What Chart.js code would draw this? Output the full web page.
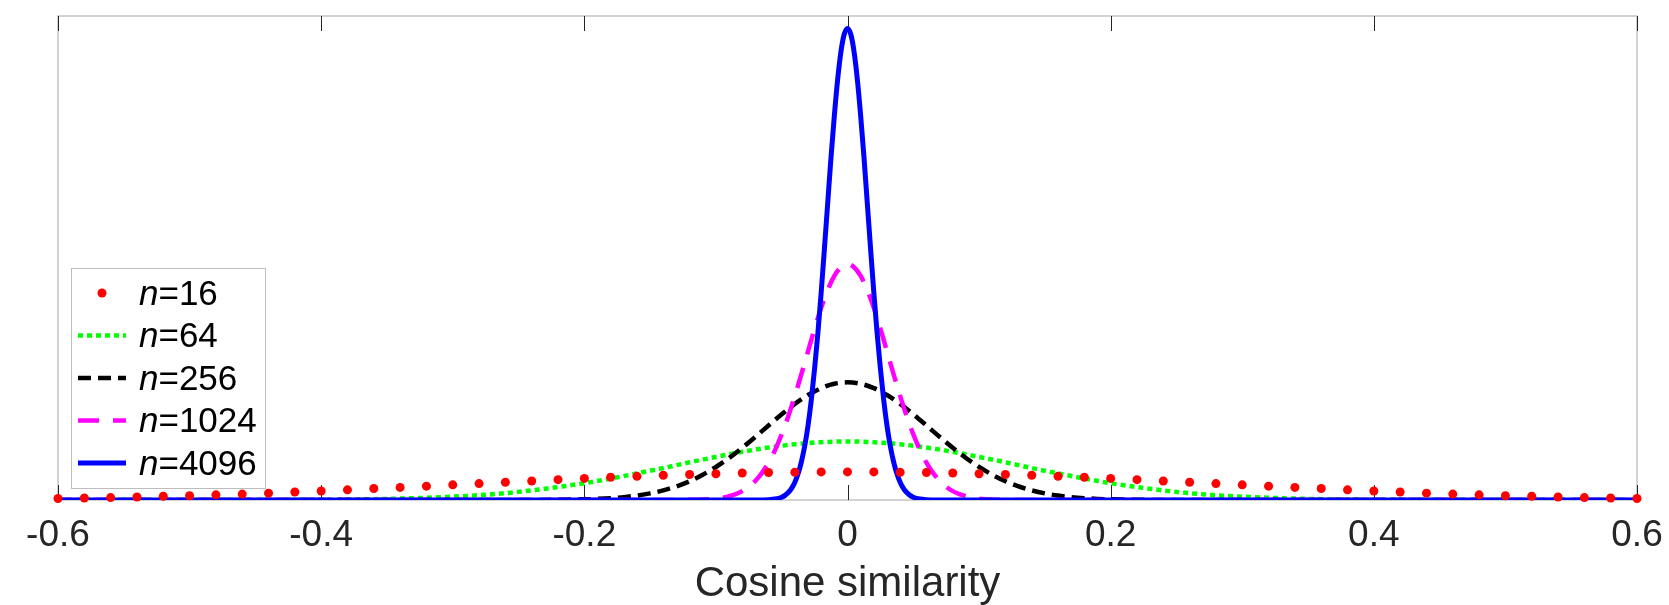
<!DOCTYPE html>
<html>
<head>
<meta charset="utf-8">
<script src="https://cdn.jsdelivr.net/npm/chart.js@4/dist/chart.umd.min.js"></script>
<style>
  body { margin: 0; background: #fff; }
  #wrap { width: 1669px; height: 605px; position: relative; }
</style>
</head>
<body>
<div id="wrap"><canvas id="chartCanvas"></canvas></div>
<script>
// Series names (vector dimension)
var nValues = [16, 64, 256, 1024, 4096];

// Axis ticks
var xTickValues = [-0.6, -0.4, -0.2, 0, 0.2, 0.4, 0.6];
var xTickLabels = ["-0.6", "-0.4", "-0.2", "0", "0.2", "0.4", "0.6"];

// Shared x grid for n=16 and n=64 (step 0.02)
var xCoarse = [-0.6, -0.58, -0.56, -0.54, -0.52, -0.5, -0.48, -0.46, -0.44, -0.42,
  -0.4, -0.38, -0.36, -0.34, -0.32, -0.3, -0.28, -0.26, -0.24, -0.22,
  -0.2, -0.18, -0.16, -0.14, -0.12, -0.1, -0.08, -0.06, -0.04, -0.02,
  0,
  0.02, 0.04, 0.06, 0.08, 0.1, 0.12, 0.14, 0.16, 0.18, 0.2,
  0.22, 0.24, 0.26, 0.28, 0.3, 0.32, 0.34, 0.36, 0.38, 0.4,
  0.42, 0.44, 0.46, 0.48, 0.5, 0.52, 0.54, 0.56, 0.58, 0.6];

var y16 = [0.08, 0.11, 0.13, 0.16, 0.20, 0.23, 0.28, 0.32, 0.37, 0.43,
  0.49, 0.55, 0.62, 0.68, 0.75, 0.82, 0.89, 0.96, 1.03, 1.10,
  1.17, 1.23, 1.28, 1.34, 1.38, 1.42, 1.46, 1.49, 1.50, 1.52,
  1.52,
  1.52, 1.50, 1.49, 1.46, 1.42, 1.38, 1.34, 1.28, 1.23, 1.17,
  1.10, 1.03, 0.96, 0.89, 0.82, 0.75, 0.68, 0.62, 0.55, 0.49,
  0.43, 0.37, 0.32, 0.28, 0.23, 0.20, 0.16, 0.13, 0.11, 0.08];

var y64 = [0, 0, 0, 0, 0, 0, 0.001, 0.002, 0.004, 0.008,
  0.016, 0.027, 0.046, 0.075, 0.12, 0.18, 0.26, 0.37, 0.52, 0.70,
  0.91, 1.16, 1.44, 1.73, 2.04, 2.33, 2.61, 2.84, 3.02, 3.13,
  3.17,
  3.13, 3.02, 2.84, 2.61, 2.33, 2.04, 1.73, 1.44, 1.16, 0.91,
  0.70, 0.52, 0.37, 0.26, 0.18, 0.12, 0.075, 0.046, 0.027, 0.016,
  0.008, 0.004, 0.002, 0.001, 0, 0, 0, 0, 0, 0];

var x256 = [-0.6, -0.3, -0.26, -0.24, -0.22, -0.2, -0.19, -0.18, -0.17, -0.16,
  -0.15, -0.14, -0.13, -0.12, -0.11, -0.1, -0.09, -0.08, -0.07, -0.06,
  -0.05, -0.04, -0.03, -0.02, -0.01, 0, 0.01, 0.02, 0.03, 0.04,
  0.05, 0.06, 0.07, 0.08, 0.09, 0.1, 0.11, 0.12, 0.13, 0.14,
  0.15, 0.16, 0.17, 0.18, 0.19, 0.2, 0.22, 0.24, 0.26, 0.3, 0.6];
var y256 = [0, 0, 0.001, 0.003, 0.012, 0.036, 0.061, 0.099, 0.156, 0.24,
  0.358, 0.521, 0.737, 1.016, 1.366, 1.788, 2.275, 2.826, 3.421, 4.036,
  4.64, 5.201, 5.684, 6.056, 6.29, 6.37, 6.29, 6.056, 5.684, 5.201,
  4.64, 4.036, 3.421, 2.826, 2.275, 1.788, 1.366, 1.016, 0.737, 0.521,
  0.358, 0.24, 0.156, 0.099, 0.061, 0.036, 0.012, 0.003, 0.001, 0, 0];

var x1024 = [-0.6, -0.15, -0.13, -0.12, -0.11, -0.1, -0.095, -0.09, -0.085, -0.08,
  -0.075, -0.07, -0.065, -0.06, -0.055, -0.05, -0.045, -0.04, -0.035, -0.03,
  -0.025, -0.02, -0.015, -0.01, -0.005, 0, 0.005, 0.01, 0.015, 0.02,
  0.025, 0.03, 0.035, 0.04, 0.045, 0.05, 0.055, 0.06, 0.065, 0.07,
  0.075, 0.08, 0.085, 0.09, 0.095, 0.1, 0.11, 0.12, 0.13, 0.15, 0.6];
var y1024 = [0, 0, 0.002, 0.008, 0.026, 0.075, 0.125, 0.201, 0.315, 0.48,
  0.715, 1.038, 1.469, 2.023, 2.716, 3.56, 4.53, 5.64, 6.82, 8.05,
  9.27, 10.40, 11.38, 12.13, 12.60, 12.76, 12.60, 12.13, 11.38, 10.40,
  9.27, 8.05, 6.82, 5.64, 4.53, 3.56, 2.716, 2.023, 1.469, 1.038,
  0.715, 0.48, 0.315, 0.201, 0.125, 0.075, 0.026, 0.008, 0.002, 0, 0];

var x4096 = [-0.6, -0.08, -0.07, -0.06, -0.055, -0.05, -0.0475, -0.045, -0.0425, -0.04,
  -0.0375, -0.035, -0.0325, -0.03, -0.0275, -0.025, -0.0225, -0.02, -0.0175, -0.015,
  -0.0125, -0.01, -0.0075, -0.005, -0.0025, 0, 0.0025, 0.005, 0.0075, 0.01,
  0.0125, 0.015, 0.0175, 0.02, 0.0225, 0.025, 0.0275, 0.03, 0.0325, 0.035,
  0.0375, 0.04, 0.0425, 0.045, 0.0475, 0.05, 0.055, 0.06, 0.07, 0.08, 0.6];
var y4096 = [0, 0, 0.001, 0.016, 0.052, 0.152, 0.251, 0.404, 0.631, 0.963,
  1.43, 2.08, 2.93, 4.03, 5.43, 7.12, 9.04, 11.24, 13.64, 16.11,
  18.58, 20.80, 22.75, 24.26, 25.21, 25.53, 25.21, 24.26, 22.75, 20.80,
  18.58, 16.11, 13.64, 11.24, 9.04, 7.12, 5.43, 4.03, 2.93, 2.08,
  1.43, 0.963, 0.631, 0.404, 0.251, 0.152, 0.052, 0.016, 0.001, 0, 0];

var FONT = "'Liberation Sans', Arial, Helvetica, sans-serif";

function pairs(xs, ys) {
  var out = [];
  for (var i = 0; i < xs.length; i++) out.push({ x: xs[i], y: ys[i] });
  return out;
}

// frame and inward ticks, like the original figure
var framePlugin = {
  id: "frame",
  beforeDatasetsDraw: function (chart) {
    var a = chart.chartArea, ctx = chart.ctx, xs = chart.scales.x;
    ctx.save();
    ctx.strokeStyle = "#c4c4c4";
    ctx.lineWidth = 1.5;
    ctx.strokeRect(a.left, a.top, a.right - a.left, a.bottom - a.top);
    ctx.strokeStyle = "#262626";
    ctx.lineWidth = 1;
    for (var i = 0; i < xTickValues.length; i++) {
      var px = Math.round(xs.getPixelForValue(xTickValues[i])) + 0.5;
      ctx.beginPath();
      ctx.moveTo(px, a.top);
      ctx.lineTo(px, a.top + 15);
      ctx.moveTo(px, a.bottom);
      ctx.lineTo(px, a.bottom - 15);
      ctx.stroke();
    }
    ctx.restore();
  }
};

// legend box with italic n
var legendPlugin = {
  id: "boxLegend",
  afterDraw: function (chart) {
    var ctx = chart.ctx;
    var bx = 71, by = 268, bw = 194, bh = 220;
    ctx.save();
    ctx.fillStyle = "#fff";
    ctx.fillRect(bx, by, bw, bh);
    ctx.strokeStyle = "#bdbdbd";
    ctx.lineWidth = 1;
    ctx.strokeRect(bx + 0.5, by + 0.5, bw, bh);
    var ds = chart.data.datasets;
    for (var i = 0; i < ds.length; i++) {
      var cy = by + 25 + i * 42.5;
      var d = ds[i];
      if (d.showLine === false) {
        ctx.fillStyle = d.pointBackgroundColor;
        ctx.beginPath();
        ctx.arc(102, cy, 4.5, 0, Math.PI * 2);
        ctx.fill();
      } else {
        ctx.strokeStyle = d.borderColor;
        ctx.lineWidth = d.borderWidth;
        ctx.setLineDash(d.borderDash || []);
        ctx.beginPath();
        ctx.moveTo(78, cy);
        ctx.lineTo(126, cy);
        ctx.stroke();
        ctx.setLineDash([]);
      }
      ctx.fillStyle = "#000";
      ctx.textBaseline = "middle";
      ctx.font = "italic 35px " + FONT;
      ctx.fillText("n", 139, cy + 2);
      var w = ctx.measureText("n").width;
      ctx.font = "35px " + FONT;
      ctx.fillText("=" + nValues[i], 139 + w, cy + 2);
    }
    ctx.restore();
  }
};

var ctx = document.getElementById("chartCanvas").getContext("2d");
var chart = new Chart(ctx, {
  type: "scatter",
  data: {
    datasets: [
      {
        label: "n=" + nValues[0],
        data: pairs(xCoarse, y16),
        showLine: false,
        pointRadius: 4.5,
        pointBackgroundColor: "#ff0000",
        pointBorderWidth: 0,
        clip: false,
        order: 0
      },
      {
        label: "n=" + nValues[1],
        data: pairs(xCoarse, y64),
        showLine: true,
        borderColor: "#00ff00",
        borderWidth: 4.5,
        borderDash: [5, 4],
        pointRadius: 0,
        cubicInterpolationMode: "monotone",
        order: 4
      },
      {
        label: "n=" + nValues[2],
        data: pairs(x256, y256),
        showLine: true,
        borderColor: "#000000",
        borderWidth: 4.5,
        borderDash: [13, 7],
        pointRadius: 0,
        cubicInterpolationMode: "monotone",
        order: 3
      },
      {
        label: "n=" + nValues[3],
        data: pairs(x1024, y1024),
        showLine: true,
        borderColor: "#ff00ff",
        borderWidth: 4.5,
        borderDash: [21, 14],
        pointRadius: 0,
        cubicInterpolationMode: "monotone",
        order: 2
      },
      {
        label: "n=" + nValues[4],
        data: pairs(x4096, y4096),
        showLine: true,
        borderColor: "#0000ff",
        borderWidth: 5,
        pointRadius: 0,
        cubicInterpolationMode: "monotone",
        order: 1
      }
    ]
  },
  options: {
    responsive: true,
    maintainAspectRatio: false,
    animation: false,
    layout: { padding: { left: 58, right: 32, top: 16, bottom: 0 } },
    plugins: {
      legend: { display: false },
      tooltip: { enabled: false }
    },
    scales: {
      x: {
        type: "linear",
        min: -0.6,
        max: 0.6,
        afterBuildTicks: function (axis) {
          axis.ticks = xTickValues.map(function (v) { return { value: v }; });
        },
        grid: { display: false, drawTicks: false },
        border: { display: false },
        ticks: {
          padding: 0,
          color: "#262626",
          maxRotation: 0,
          autoSkip: false,
          font: { family: FONT, size: 37, lineHeight: "72px" },
          callback: function (v, i) { return xTickLabels[i]; }
        },
        title: {
          display: true,
          text: "Cosine similarity",
          color: "#262626",
          padding: { top: 0, bottom: 9 },
          font: { family: FONT, size: 42, lineHeight: "24px" }
        }
      },
      y: {
        display: false,
        min: 0,
        max: 26.2
      }
    }
  },
  plugins: [framePlugin, legendPlugin]
});
</script>
</body>
</html>
